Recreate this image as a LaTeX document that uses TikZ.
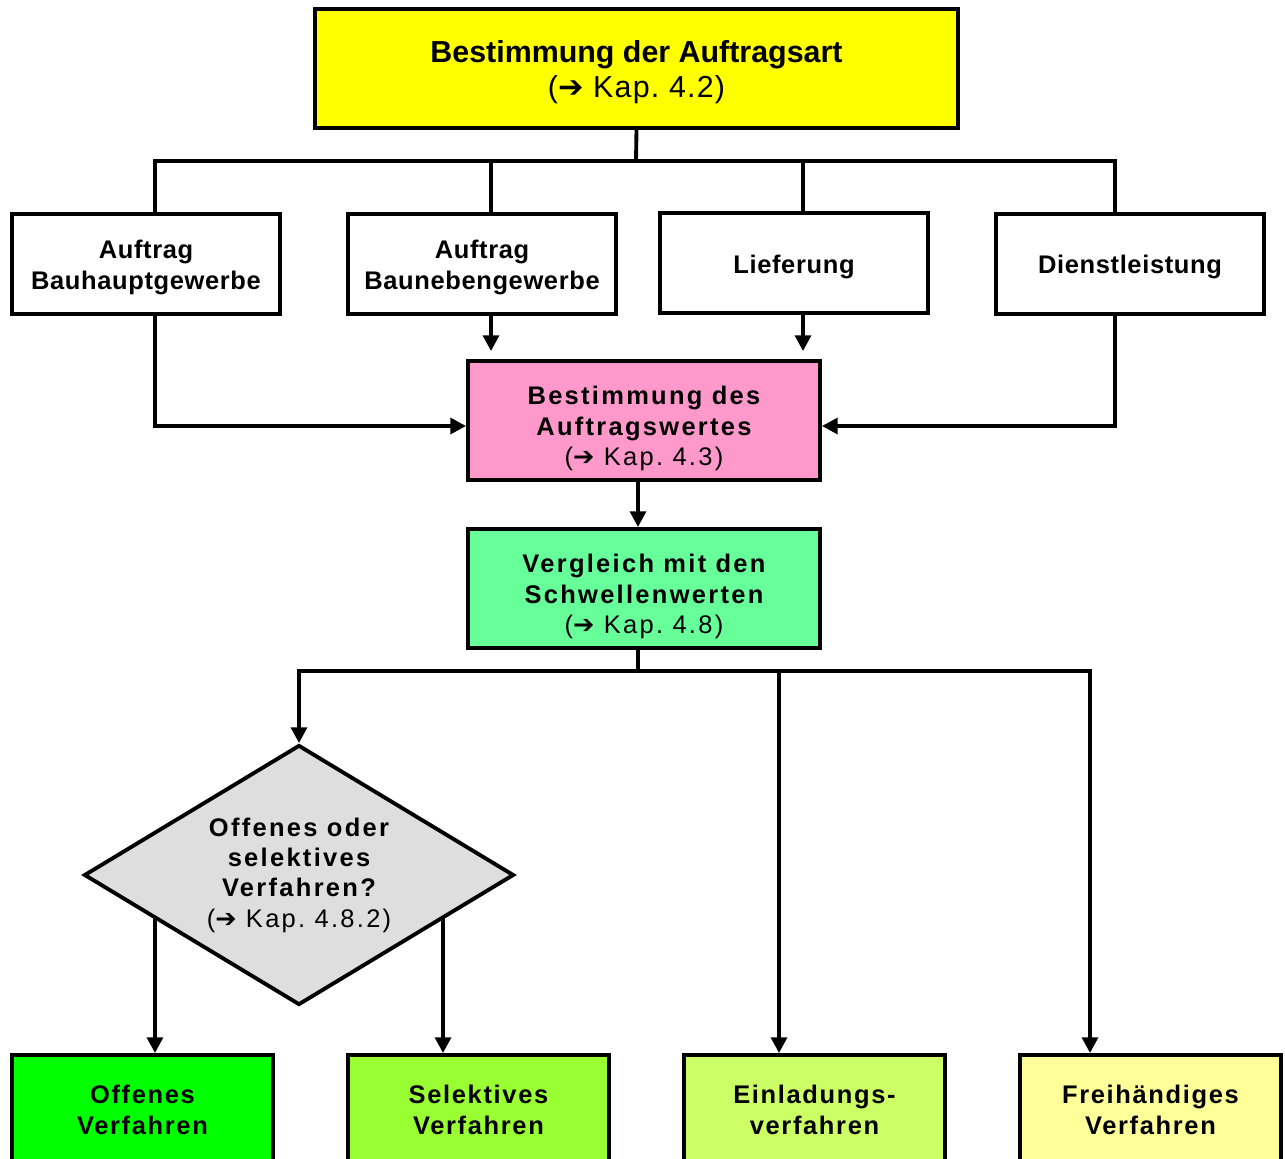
\documentclass[tikz,border=0pt]{standalone}
\usepackage{fontspec}
\setmainfont{Liberation Sans}[LetterSpace=2.5]
\newfontfamily\schmalfont{Liberation Sans}
\newfontfamily\mittelfont{Liberation Sans}[LetterSpace=4]
\newfontfamily\weitfont{Liberation Sans}[LetterSpace=9]
\newfontfamily\verfahrenfont{Liberation Sans}[LetterSpace=6.5]
\newfontfamily\pfeilfont{DejaVu Sans}
\usetikzlibrary{shapes.geometric,arrows.meta,calc}
\newcommand{\kapverweis}[1]{({\pfeilfont\bfseries ➔} Kap.~#1)}
\newcommand{\hoch}[1]{\rule{0pt}{#1}}
\tikzset{
  stufe/.style={draw,shape=rectangle,line width=2.2pt,align=center,inner sep=0pt,
    font=\fontsize{14.5}{17.3}\selectfont\bfseries},
  art/.style={stufe,minimum width=5.36cm,minimum height=2cm},
  haupt/.style={stufe,minimum width=7.04cm,minimum height=2.38cm,
    font=\fontsize{14.5}{17.5}\selectfont\weitfont\bfseries},
  verfahren/.style={stufe,minimum width=5.22cm,minimum height=2.2cm,
    font=\fontsize{14.5}{17.5}\selectfont\verfahrenfont\bfseries},
  frageform/.style={draw,shape=diamond,line width=2.2pt,align=center,inner sep=0pt,
    aspect=1.64,minimum width=8.6cm,minimum height=5.2cm,fill=black!13,
    font=\fontsize{14.5}{17.3}\selectfont\weitfont\bfseries},
  linie/.style={line width=2.2pt},
}
\begin{document}
\begin{tikzpicture}[x=0.02cm,y=-0.02cm,>={Triangle[length=9pt,width=9pt]}]
\useasboundingbox (0,0) rectangle (1285,1159);
\fill[white] (0,0) rectangle (1285,1159);
\clip (0,0) rectangle (1285,1159);
% Auftragsart
\node [stufe,fill={rgb,255:red,255;green,255;blue,0},minimum width=12.86cm,minimum height=2.38cm,
  name=auftragsart,font=\fontsize{17.3}{19.8}\selectfont\bfseries] at (636.5,68.5)
  {\hoch{17.1pt}\schmalfont Bestimmung der Auftragsart\\\mittelfont\mdseries\kapverweis{4.2}};
\node [art,name=bauhaupt] at (146,264) {\hoch{14.6pt}Auftrag\\Bauhauptgewerbe};
\node [art,name=bauneben] at (482,264) {\hoch{14.6pt}Auftrag\\Baunebengewerbe};
\node [art,name=lieferung] at (794,263) {\hoch{14.6pt}Lieferung};
\node [art,name=dienst] at (1130,264) {\hoch{14pt}Dienstleistung};
% Auftragswert und Schwellenwerte
\node [haupt,fill={rgb,255:red,255;green,153;blue,204},name=wert] at (644,420.5)
  {\hoch{19.6pt}Bestimmung des\\Auftragswertes\\\mdseries\kapverweis{4.3}};
\node [haupt,fill={rgb,255:red,102;green,255;blue,153},name=vergleich] at (644,588.5)
  {\hoch{19.6pt}Vergleich mit den\\Schwellenwerten\\\mdseries\kapverweis{4.8}};
\node [frageform,name=frage] at (299,875)
  {Offenes oder\\selektives\\Verfahren?\\\mdseries\kapverweis{4.8.2}};
% Verfahrensarten
\node [verfahren,fill={rgb,255:red,0;green,255;blue,0},name=offen] at (142.5,1110) {Offenes\\Verfahren};
\node [verfahren,fill={rgb,255:red,153;green,255;blue,51},name=selektiv] at (478.5,1110) {Selektives\\Verfahren};
\node [verfahren,fill={rgb,255:red,204;green,255;blue,102},name=einladung] at (814.5,1110) {Einladungs-\\verfahren};
\node [verfahren,fill={rgb,255:red,255;green,255;blue,153},name=freihaendig] at (1150.5,1110) {Freihändiges\\Verfahren};
\coordinate (bus) at (636,161);
\coordinate (split) at (638,671);
\coordinate (ja) at ($(frage.west)!0.336!(frage.south)$);
\coordinate (nein) at ($(frage.east)!0.336!(frage.south)$);
\draw[linie] (auftragsart.south)--(bus);
\draw[linie] ([xshift=0.18cm]bauhaupt.north) |- (bus) -| ([xshift=-0.3cm]dienst.north);
\draw[linie] ([xshift=0.18cm]bauneben.north)--([xshift=0.18cm]bauneben.north |- bus);
\draw[linie] ([xshift=0.18cm]lieferung.north)--([xshift=0.18cm]lieferung.north |- bus);
\draw[->,linie,shorten >=0.16cm] ([xshift=0.18cm]bauneben.south)--([xshift=0.18cm]bauneben.south |- wert.north);
\draw[->,linie,shorten >=0.16cm] ([xshift=0.18cm]lieferung.south)--([xshift=0.18cm]lieferung.south |- wert.north);
\draw[->,linie] ([xshift=0.18cm]bauhaupt.south) |- ([yshift=-0.11cm]wert.west);
\draw[->,linie] ([xshift=-0.3cm]dienst.south) |- ([yshift=-0.11cm]wert.east);
\draw[->,linie] ([xshift=-0.12cm]wert.south)--([xshift=-0.12cm]vergleich.north);
\draw[linie] ([xshift=-0.12cm]vergleich.south)--(split);
\draw[->,linie] (split) -| (frage.north);
\draw[->,linie] (split) -| ([xshift=-0.71cm]einladung.north);
\draw[->,linie] (split) -| ([xshift=-1.21cm]freihaendig.north);
\draw[->,linie] (ja)--(ja |- offen.north);
\draw[->,linie] (nein)--(nein |- selektiv.north);
\end{tikzpicture}
\end{document}
